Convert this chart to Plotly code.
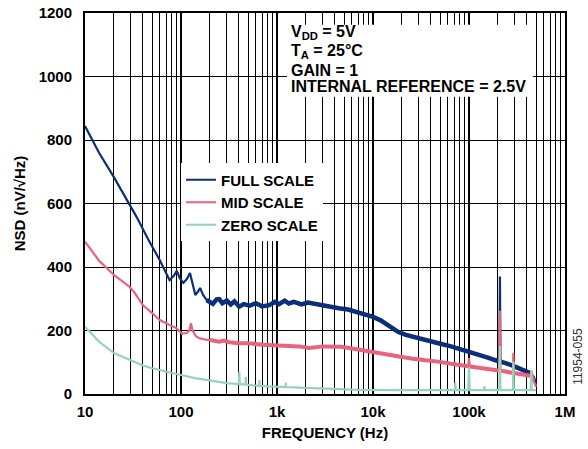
import plotly.graph_objects as go

# frequency (Hz) and noise spectral density (nV/rtHz)
FULL_F = [10, 14, 20, 28, 35, 45, 60, 76, 84, 90.5,
          97, 106, 115, 124, 132, 141, 150, 158, 170, 185,
          197, 215, 235, 250, 270, 300, 330, 360, 404, 450,
          520, 600, 700, 830, 950, 1050, 1200, 1330, 1500, 1800,
          2100, 2500, 3000, 3600, 4400, 5500, 7000, 8500, 10000, 12000,
          14000, 16000, 18400, 22000, 27000, 35000, 48000, 65000, 85000, 100000,
          130000, 160000, 186000, 207000, 210000, 213000, 240000, 277000, 330000, 407000,
          440000, 470000, 490000, 500000]
FULL_V = [844, 760, 683, 605, 554, 490, 422, 359, 372, 388,
          365, 350, 362, 381, 350, 312, 322, 334, 312, 296,
          291, 284, 298, 299, 286, 294, 282, 292, 275, 283,
          278, 286, 276, 280, 290, 283, 294, 285, 290, 282,
          288, 283, 280, 276, 270, 266, 258, 250, 243, 232,
          218, 205, 195, 186, 180, 172, 160, 150, 140, 133,
          123, 114, 107, 104, 370, 103, 97, 91, 82, 70,
          65, 55, 42, 28]
FULL_SPIKES = [210000]

MID_F = [10, 14, 20, 25, 29, 33, 40, 50, 60, 76,
         89, 96, 103, 115, 122, 127, 132, 143, 155, 175,
         200, 250, 280, 320, 400, 500, 700, 1000, 1330, 1700,
         2150, 3000, 4700, 7000, 10000, 14000, 18000, 25000, 35000, 48000,
         70000, 98000, 100000, 102000, 140000, 186000, 207000, 210000, 213000, 250000,
         287000, 290000, 293000, 350000, 407000, 440000, 445000, 470000, 500000]
MID_V = [480, 420, 375, 352, 338, 318, 280, 255, 233, 217,
         208, 198, 190, 192, 200, 223, 200, 182, 176, 172,
         170, 165, 168, 163, 160, 160, 155, 154, 151, 150,
         145, 150, 149, 140, 133, 124, 117, 112, 106, 102,
         94, 88, 113, 88, 80, 76, 75, 262, 75, 70,
         66, 130, 66, 62, 60, 57, 74, 42, 23]
MID_SPIKES = [100000, 210000, 290000, 445000]

ZERO_F = [10, 14, 20, 29, 40, 50, 76, 100, 140, 197,
          300, 400, 405, 410, 415, 470, 474, 478, 560, 650,
          655, 660, 800, 1000, 1230, 1235, 1240, 1700, 3000, 7000,
          20000, 50000, 71000, 72000, 73000, 98000, 100000, 102000, 144000, 145000,
          146000, 207000, 210000, 213000, 287000, 290000, 293000, 440000, 445000, 450000,
          500000]
ZERO_V = [212, 165, 129, 107, 90, 81, 67, 60, 50, 42,
          34, 31, 70, 32, 31, 30, 53, 30, 27, 26,
          44, 26, 24, 23, 22, 36, 22, 20, 17, 13,
          12, 12, 12, 35, 12, 12, 84, 12, 12, 25,
          12, 12, 151, 12, 12, 102, 12, 12, 76, 12,
          12]

X_TICKS = [10, 100, 1000, 10000, 100000, 1000000]
X_TICK_TEXT = ['10', '100', '1k', '10k', '100k', '1M']
X_MINOR = [m * d for d in [10, 100, 1000, 10000, 100000] for m in range(2, 10)]

CONDITIONS = ['V<sub>DD</sub> = 5V', 'T<sub>A</sub> = 25°C', 'GAIN = 1', 'INTERNAL REFERENCE = 2.5V']
CONDITION_Y = [0.948, 0.898, 0.850, 0.806]

NAVY = '#0b3079'
PINK = '#e8647f'
MINT = '#97d3b6'
FONT = 'Liberation Sans, Arial, sans-serif'


def band(freqs, vals, spikes, lo, hi):
    '''Points of the noisy band region (spike peaks left out).'''
    pts = [(f, v) for f, v in zip(freqs, vals) if lo <= f <= hi and f not in spikes]
    return [p[0] for p in pts], [p[1] for p in pts]


fig = go.Figure()

# thicker noise bands drawn first, thin line on top
fb_f, fb_v = band(FULL_F, FULL_V, FULL_SPIKES, 185, 440000)
fig.add_trace(go.Scatter(x=fb_f, y=fb_v, mode='lines', line=dict(color=NAVY, width=4.5),
                         showlegend=False, legendgroup='full', hoverinfo='skip'))
fig.add_trace(go.Scatter(x=FULL_F, y=FULL_V, mode='lines', name='FULL SCALE',
                         line=dict(color=NAVY, width=2.2), legendgroup='full'))

mb_f, mb_v = band(MID_F, MID_V, MID_SPIKES, 200, 470000)
fig.add_trace(go.Scatter(x=mb_f, y=mb_v, mode='lines', line=dict(color=PINK, width=4),
                         showlegend=False, legendgroup='mid', hoverinfo='skip'))
fig.add_trace(go.Scatter(x=MID_F, y=MID_V, mode='lines', name='MID SCALE',
                         line=dict(color=PINK, width=2.2), legendgroup='mid'))

fig.add_trace(go.Scatter(x=ZERO_F, y=ZERO_V, mode='lines', name='ZERO SCALE',
                         line=dict(color=MINT, width=2.2)))

fig.update_xaxes(type='log',
                 range=[1, 6],
                 automargin=False,
                 tickvals=X_TICKS,
                 ticktext=X_TICK_TEXT,
                 ticks='',
                 ticklabelstandoff=3,
                 showgrid=True, gridcolor='black', gridwidth=2,
                 minor=dict(tickvals=X_MINOR, showgrid=True, gridcolor='black', gridwidth=1, ticks=''),
                 showline=True, linecolor='black', linewidth=2, mirror=True,
                 zeroline=False,
                 tickfont=dict(family=FONT, size=15, color='black', weight='bold'),
                 title=dict(text='FREQUENCY (Hz)', standoff=8,
                            font=dict(family=FONT, size=15, color='black', weight='bold')))

fig.update_yaxes(range=[0, 1200],
                 automargin=False,
                 dtick=200,
                 ticks='',
                 ticklabelstandoff=8,
                 showgrid=True, gridcolor='black', gridwidth=1,
                 showline=True, linecolor='black', linewidth=2, mirror=True,
                 zeroline=False,
                 tickfont=dict(family=FONT, size=15, color='black', weight='bold'),
                 title=dict(text='NSD (nV/√Hz)', standoff=9,
                            font=dict(family=FONT, size=15, color='black', weight='bold')))

# white panel behind the test conditions (hides the grid there)
fig.add_shape(type='rect', xref='paper', yref='paper',
              x0=0.421, x1=0.933, y0=0.78, y1=0.969,
              fillcolor='white', line_width=0, layer='above')

for txt, yy in zip(CONDITIONS, CONDITION_Y):
    fig.add_annotation(xref='paper', yref='paper', x=0.427, y=yy,
                       xanchor='left', yanchor='middle', align='left',
                       text=txt, showarrow=False, borderpad=0,
                       font=dict(family=FONT, size=16, color='black', weight='bold'))

fig.add_annotation(xref='paper', yref='paper', x=1.027, y=0.1,
                   xanchor='center', yanchor='middle', textangle=-90,
                   text='11954-055', showarrow=False,
                   font=dict(family=FONT, size=12, color='#333333'))

fig.update_layout(width=588, height=449,
                  paper_bgcolor='white', plot_bgcolor='white',
                  margin={'l': 85, 'r': 23, 't': 13, 'b': 55, 'autoexpand': False},
                  showlegend=True,
                  legend=dict(x=0.2, y=0.605, xanchor='left', yanchor='top',
                              bgcolor='white', borderwidth=0,
                              tracegroupgap=0, itemwidth=30,
                              font=dict(family=FONT, size=15, color='black', weight='bold')))

# drop the default page margin so the figure sits at the window's corner
fig.write_html("out.html", config={'displayModeBar': False},
               post_script="document.body.style.margin = '0';")
